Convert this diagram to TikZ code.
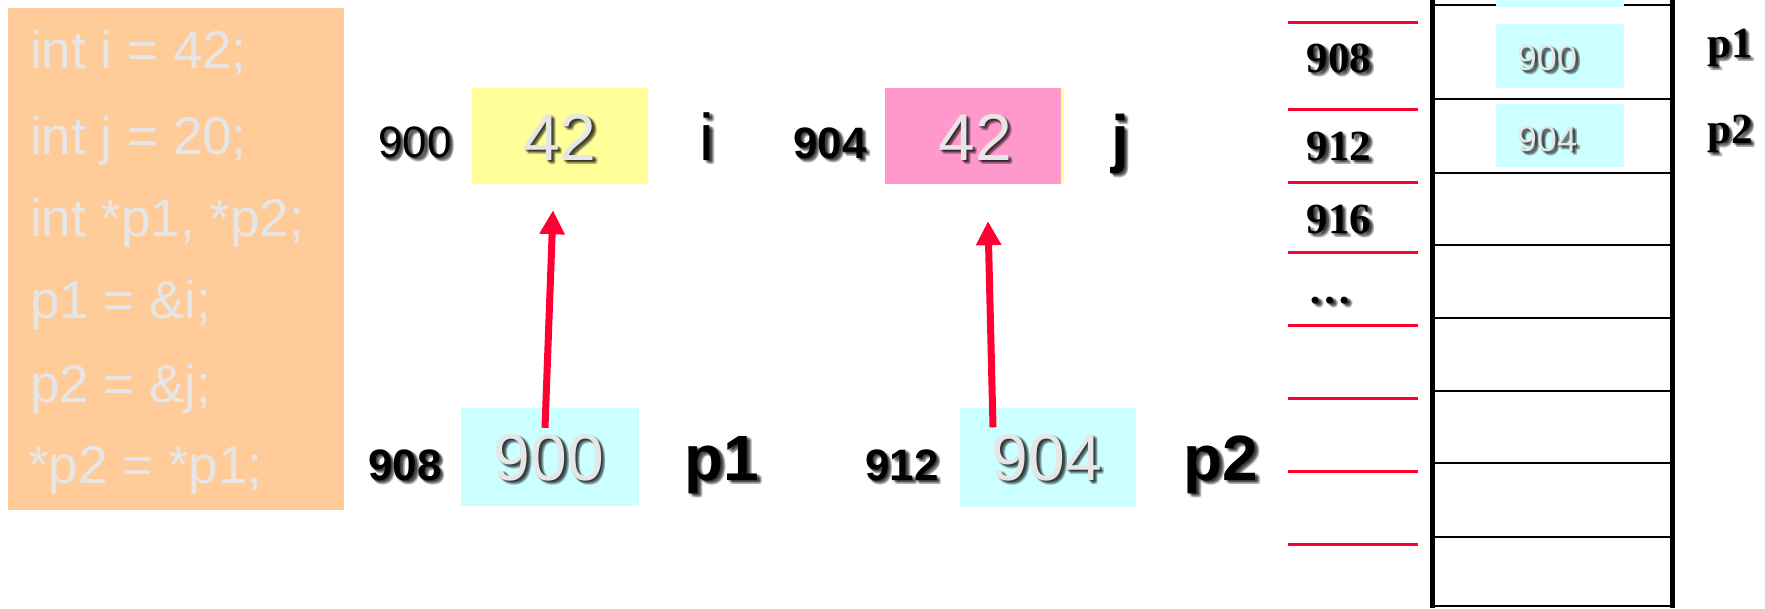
\documentclass[tikz,border=0pt]{standalone}
\usepackage{fontspec}
\setmainfont{Liberation Sans}
\newfontfamily\tnr{Liberation Serif}
\usetikzlibrary{arrows.meta,calc}

\definecolor{peach}{HTML}{FFCC99}
\definecolor{codegray}{HTML}{E6E6E6}
\definecolor{lemon}{HTML}{FFFF99}
\definecolor{rose}{HTML}{FF99CC}
\definecolor{aqua}{HTML}{CCFFFF}
\definecolor{ptrred}{HTML}{FF0033}

% text with a soft drop shadow: name, position, style, text
\newcommand\shtxt[4]{%
  \foreach \dx/\dy [count=\k] in {1.5/1.5,2.5/2.5,3.5/3.5,2.5/1,1/2.5,4.5/4,3/4.5,4.5/2.5}{%
    \node[#3,text=black,text opacity=0.17] (#1-s\k) at ($(#2)+(\dx,\dy)$) {#4};}%
  \node[#3] (#1) at (#2) {#4};}

\begin{document}
\begin{tikzpicture}[x=1pt,y=-1pt,
  code/.style={font=\fontsize{53}{60}\selectfont, text=codegray, anchor=base west, inner sep=0pt},
  val/.style={font=\fontsize{66}{70}\selectfont, text=codegray, anchor=base, inner sep=0pt},
  addr/.style={font=\fontsize{44}{50}\selectfont, anchor=base, inner sep=0pt},
  addrb/.style={font=\fontsize{44}{50}\selectfont\bfseries, anchor=base, inner sep=0pt},
  var/.style={font=\fontsize{66}{70}\selectfont, anchor=base, inner sep=0pt},
  varb/.style={font=\fontsize{64}{70}\selectfont\bfseries, anchor=base, inner sep=0pt},
  cell/.style={minimum width=176pt, minimum height=96pt, inner sep=0pt, draw=none},
  memaddr/.style={font=\tnr\bfseries\fontsize{43}{48}\selectfont, anchor=base, inner sep=0pt},
  memval/.style={font=\fontsize{36}{40}\selectfont, text=codegray, anchor=base, inner sep=0pt},
  ptr/.style={draw=ptrred, line width=7pt, -{Triangle[width=24pt,length=24pt]}},
  tick/.style={draw=ptrred, line width=3pt},
  rowline/.style={draw=black, line width=2.2pt},
  wall/.style={draw=black, line width=5pt}]

\useasboundingbox (0,0) rectangle (1765,608);

% ---- source code panel
\node[fill=peach, minimum width=336pt, minimum height=502pt, inner sep=0pt] (codebox) at (176,259) {};
\node[code] (c1) at (30,68)  {int i = 42;};
\node[code] (c2) at (30,154) {int j = 20;};
\node[code] (c3) at (30,236) {int *p1, *p2;};
\node[code] (c4) at (30,318) {p1 = \&i;};
\node[code] (c5) at (30,402) {p2 = \&j;};
\node[code] (c6) at (28,483) {*p2 = *p1;};

% ---- variables i and j
\node[cell, fill=lemon] (ival) at (560,136) {};
\node[cell, fill=lemon, minimum width=4pt] (jedge) at (1062,136) {};
\node[cell, fill=rose] (jval) at (973,136) {};
\shtxt{ivaltxt}{560,160}{val}{42}
\shtxt{jvaltxt}{975,160}{val}{42}
\shtxt{iaddr}{415,157}{addr}{900}
\shtxt{jaddr}{830,158}{addrb}{904}
\shtxt{iname}{707,160}{var}{i}
\shtxt{jname}{1120,160}{varb}{j}

% ---- pointers p1 and p2
\node[cell, fill=aqua, minimum width=178pt, minimum height=98pt] (pone) at (550,457) {};
\node[cell, fill=aqua, minimum height=99pt] (ptwo) at (1048,457.5) {};
\shtxt{ponetxt}{549,480}{val}{900}
\shtxt{ptwotxt}{1047,480}{val}{904}
\shtxt{poneaddr}{405,480}{addrb}{908}
\shtxt{ptwoaddr}{902,480}{addrb}{912}
\shtxt{ponename}{722,480}{varb}{p1}
\shtxt{ptwoname}{1221,480}{varb}{p2}

% ---- pointer arrows
\coordinate (a1s) at ($(pone.north)+(-5,20)$);
\coordinate (a1e) at ($(ival.south)+(-7,26)$);
\coordinate (a2s) at ($(ptwo.north)+(-55,19.5)$);
\coordinate (a2e) at ($(jval.south)+(15,37)$);
\draw[ptr] (a1s) -- (a1e);
\draw[ptr] (a2s) -- (a2e);

% ---- memory column
\foreach \yy [count=\k] in {5,99,173,245,318,391,463,537,606}
  \draw[rowline] (1432,\yy) -- (1672,\yy);
\node[fill=aqua, minimum width=128pt, minimum height=8pt, inner sep=0pt] (mtop) at (1560,3) {};
\node[fill=aqua, minimum width=128pt, minimum height=64pt, inner sep=0pt] (mone) at (1560,56) {};
\node[fill=aqua, minimum width=128pt, minimum height=63pt, inner sep=0pt] (mtwo) at (1560,135.5) {};
\draw[wall] (1432,0) -- (1432,608);
\draw[wall] (1672,0) -- (1672,608);
\shtxt{monetxt}{1547,70}{memval}{900}
\shtxt{mtwotxt}{1547,151}{memval}{904}

% address ticks and labels
\foreach \yy in {22,109,182,252,325,398,471,544}
  \draw[tick] (1288,\yy) -- (1418,\yy);
\shtxt{m908}{1339,72}{memaddr}{908}
\shtxt{m912}{1339,160}{memaddr}{912}
\shtxt{m916}{1339,233}{memaddr}{916}
\shtxt{mdots}{1330,303}{memaddr}{\textbf{\dots}}
\shtxt{mp1}{1730,57}{memaddr}{p1}
\shtxt{mp2}{1730,143}{memaddr}{p2}
\end{tikzpicture}
\end{document}
